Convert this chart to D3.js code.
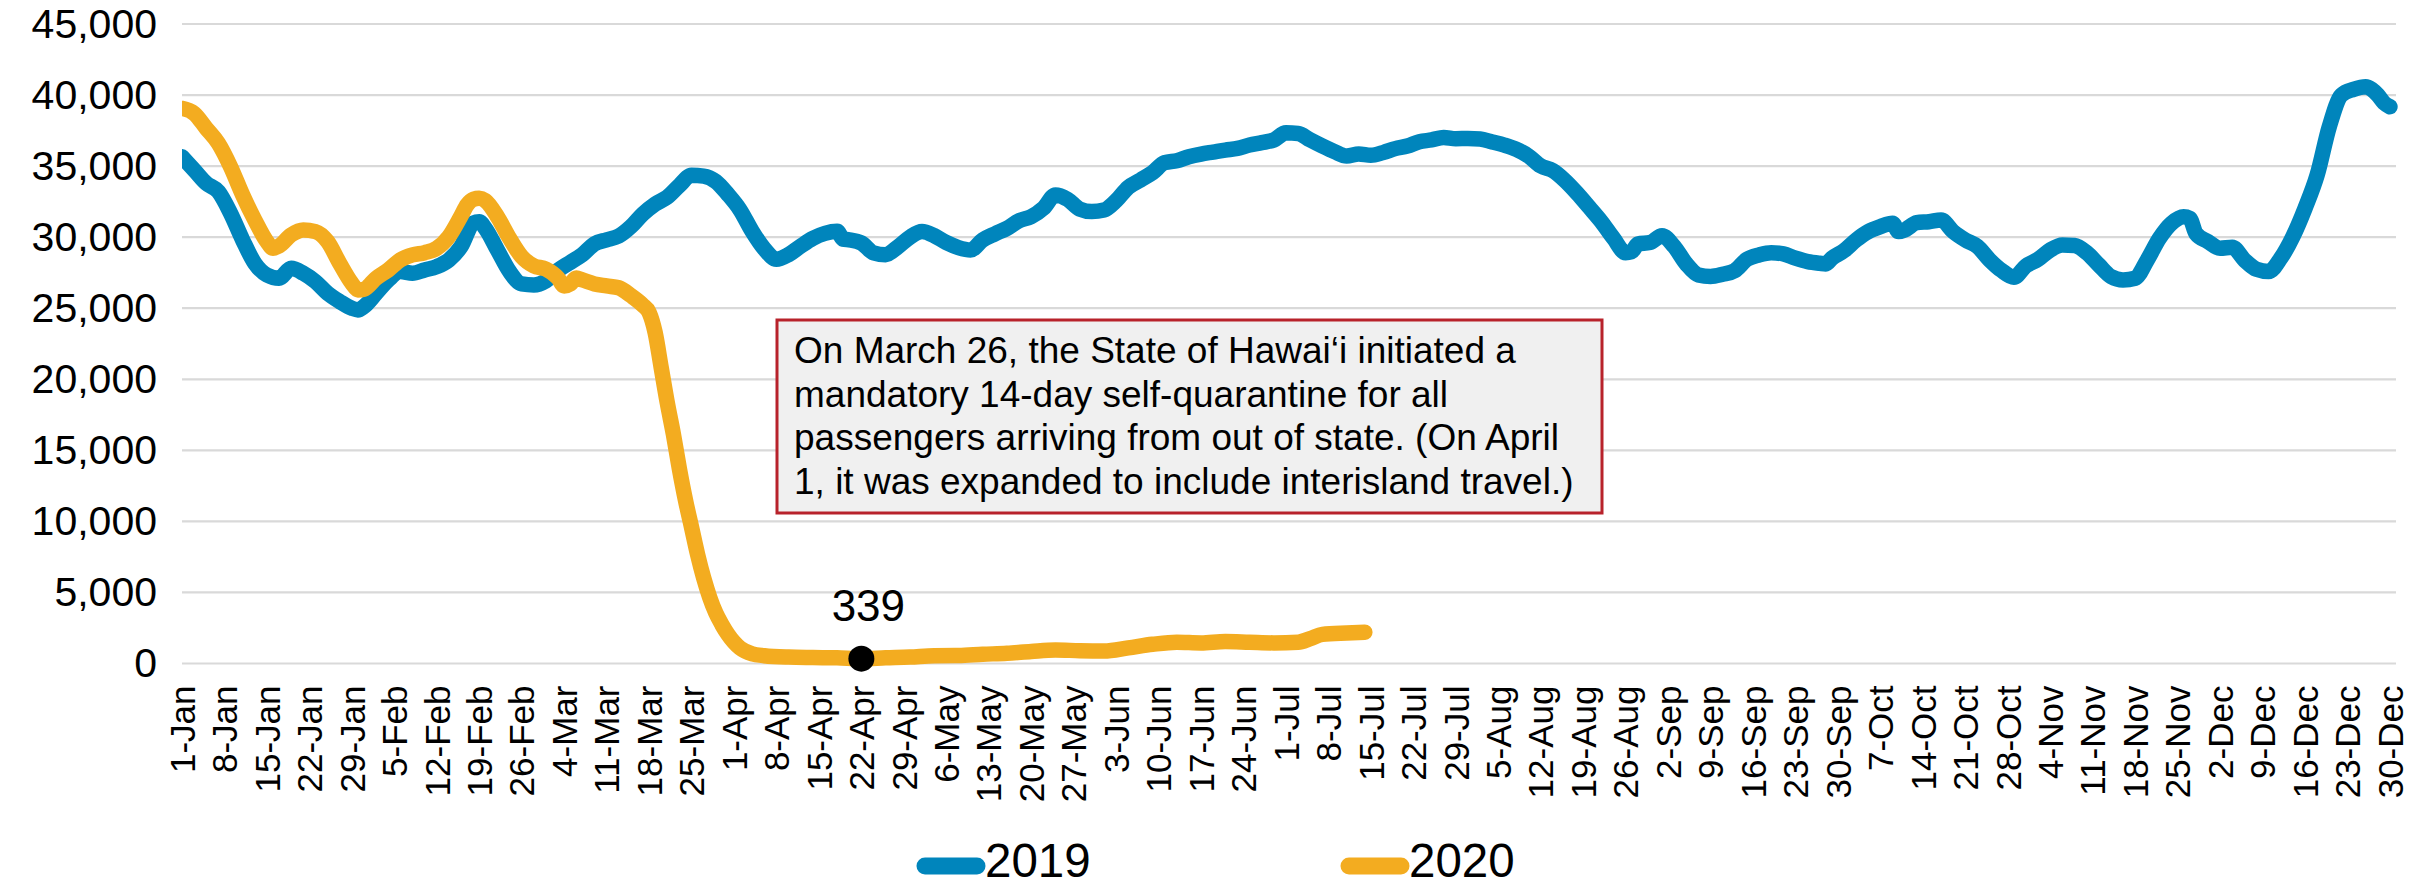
<!DOCTYPE html>
<html>
<head>
<meta charset="utf-8">
<script src="https://cdn.jsdelivr.net/npm/d3@7"></script>
<style>
  html, body { margin: 0; padding: 0; background: #ffffff; }
  svg { display: block; font-family: "Liberation Sans", Arial, Helvetica, sans-serif; }
</style>
</head>
<body>
<svg id="chart" width="2432" height="887"></svg>
<script>
// Daily visitor arrivals (7-day rolling), calendar axis 1-Jan .. 31-Dec
const categories = d3.timeDay.range(new Date(2020, 0, 1), new Date(2021, 0, 1))
  .map(d3.timeFormat("%-d-%b"));

const tickLabels = [
  "1-Jan","8-Jan","15-Jan","22-Jan","29-Jan","5-Feb","12-Feb","19-Feb","26-Feb",
  "4-Mar","11-Mar","18-Mar","25-Mar","1-Apr","8-Apr","15-Apr","22-Apr","29-Apr",
  "6-May","13-May","20-May","27-May","3-Jun","10-Jun","17-Jun","24-Jun",
  "1-Jul","8-Jul","15-Jul","22-Jul","29-Jul","5-Aug","12-Aug","19-Aug","26-Aug",
  "2-Sep","9-Sep","16-Sep","23-Sep","30-Sep","7-Oct","14-Oct","21-Oct","28-Oct",
  "4-Nov","11-Nov","18-Nov","25-Nov","2-Dec","9-Dec","16-Dec","23-Dec","30-Dec"
];

const yTicks = [0, 5000, 10000, 15000, 20000, 25000, 30000, 35000, 40000, 45000];

// 2019 series: day index (0 = 1-Jan) and value
const day2019 = [
  0,2,4,6,8,10,12,14,16,18,20,22,24,26,28,29,30,32,34,36,38,40,42,44,46,48,49,50,52,54,56,58,
  60,62,64,66,68,70,72,74,76,78,80,82,84,86,88,90,92,94,96,98,100,102,104,106,108,109,110,112,114,116,118,
  120,122,124,126,128,130,132,134,136,138,140,142,144,146,148,150,152,154,156,158,160,162,164,166,168,170,
  172,174,176,178,180,182,184,186,188,190,192,194,196,198,200,202,204,206,208,210,212,214,216,218,220,
  222,224,226,228,230,232,234,236,238,239,240,242,244,246,248,250,252,254,256,258,260,262,264,266,268,
  270,271,272,274,276,278,280,282,283,284,286,288,290,292,294,296,298,300,302,304,306,308,310,312,314,
  316,318,320,322,324,326,328,330,331,332,334,336,338,340,342,344,346,348,350,352,354,356,358,360,361,
  362,363,364
];
const values2019 = [
  35660,34730,33790,33200,31680,29800,28160,27340,27110,27810,27460,26870,26050,25470,25000,24880,25120,26050,
  26990,27580,27460,27690,27930,28400,29340,30980,31090,30620,29100,27580,26710,26640,
  26930,27670,28220,28770,29530,29810,30080,30740,31640,32330,32820,33640,34360,34300,33920,33010,31920,
  30410,29180,28440,28770,29370,29920,30270,30410,29860,29810,29590,28900,28770,29310,
  30000,30400,30110,29620,29270,29100,29800,30230,30620,31160,31440,32030,32970,32660,31980,31800,31910,
  32570,33510,34020,34540,35240,35380,35660,35850,35990,
  36130,36250,36480,36650,36840,37340,37300,36840,36410,36020,35710,35850,35760,35950,36230,36410,36720,
  36840,37020,36930,36950,36910,36700,36480,36180,
  35710,35010,34680,33980,33090,32100,31090,29920,28910,28980,29520,29620,30100,29340,28120,27340,27230,
  27390,27650,28440,28750,28910,28820,28520,28280,
  28160,28120,28520,29050,29800,30390,30740,30980,30390,30510,31020,31090,31210,30390,29800,29340,28400,
  27650,27180,27980,28440,29100,29450,29410,28910,
  28050,27230,26990,27110,28400,29920,30980,31440,31330,30270,29690,29220,29290,28400,27740,27580,28520,
  30040,32030,34370,37770,40000,40400,40590,40400,
  40000,39460,39180
];

// 2020 series: day index (0 = 1-Jan) and value
const day2020 = [
  0,2,4,6,8,10,12,14,15,16,18,20,22,24,26,28,29,30,32,34,36,38,40,42,44,46,47,48,49,50,52,54,56,58,
  60,62,63,64,65,66,68,70,72,74,76,77,78,79,80,81,82,83,84,85,86,87,88,89,90,91,92,94,96,100,104,108,
  112,116,120,124,128,132,136,140,144,148,152,156,160,164,168,172,176,180,184,186,188,192,195
];
const values2020 = [
  39060,38710,37660,36600,34960,32970,31210,29690,29220,29380,30160,30510,30390,29690,28160,26760,26290,
  26340,27110,27690,28400,28750,28910,29220,30040,31490,32270,32660,32730,32570,31440,29920,28630,27980,
  27750,27120,26570,26710,27120,26990,26710,26570,26440,25890,25200,24710,23290,20820,18350,16160,13700,
  11500,9590,7670,6020,4650,3560,2740,2050,1500,1090,680,550,450,420,400,
  339,400,450,550,560,650,720,850,950,900,880,1100,1350,1500,1450,1550,1500,1450,1500,1750,2050,2150,2200
];

// labelled point on the 2020 line
const markerDay = "22-Apr";
const markerValue = 339;

const noteLines = [
  "On March 26, the State of Hawai\u2018i initiated a",
  "mandatory 14-day self-quarantine for all",
  "passengers arriving from out of state. (On April",
  "1, it was expanded to include interisland travel.)"
];

const seriesNames = ["2019", "2020"];
const colors = { "2019": "#0085BC", "2020": "#F3AC20" };

// ---- layout ----
const svg = d3.select("#chart");
const plot = { left: 182, right: 2396, top: 24, bottom: 663.5 };

const x = d3.scalePoint().domain(categories).range([plot.left, plot.right]);
const y = d3.scaleLinear().domain([0, 45000]).range([plot.bottom, plot.top]);

// gridlines
svg.append("g").selectAll("line").data(yTicks).join("line")
  .attr("x1", plot.left).attr("x2", plot.right)
  .attr("y1", d => y(d)).attr("y2", d => y(d))
  .attr("stroke", "#d9d9d9").attr("stroke-width", 2.2);

// y axis labels
const yAxis = d3.axisLeft(y).tickValues(yTicks).tickFormat(d3.format(",")).tickSize(0).tickPadding(0);
svg.append("g")
  .attr("transform", `translate(${plot.left - 25},0)`)
  .call(yAxis)
  .call(g => g.select(".domain").remove())
  .call(g => g.selectAll("text")
    .attr("font-family", "Liberation Sans, Arial, sans-serif")
    .attr("font-size", 41).attr("fill", "#000"));

// x axis labels (rotated)
const xAxis = d3.axisBottom(x).tickValues(tickLabels).tickSize(0).tickPadding(0);
svg.append("g")
  .attr("transform", `translate(0,${plot.bottom})`)
  .call(xAxis)
  .call(g => g.select(".domain").remove())
  .call(g => g.selectAll("text")
    .attr("font-family", "Liberation Sans, Arial, sans-serif")
    .attr("font-size", 35).attr("fill", "#000")
    .attr("text-anchor", "end")
    .attr("transform", "translate(0,22) rotate(-90)")
    .attr("x", 0).attr("y", 0).attr("dy", "0.35em"));

// clip to plot area
svg.append("clipPath").attr("id", "plotClip")
  .append("rect").attr("x", plot.left).attr("y", 0)
  .attr("width", plot.right - plot.left + 10).attr("height", plot.bottom + 20);

const line = d3.line().x(d => d[0]).y(d => d[1]).curve(d3.curveMonotoneX);

const series = [
  { name: "2019", pts: day2019.map((d, i) => [x(categories[d]), y(values2019[i])]) },
  { name: "2020", pts: day2020.map((d, i) => [x(categories[d]), y(values2020[i])]) }
];

svg.append("g").attr("clip-path", "url(#plotClip)")
  .selectAll("path").data(series).join("path")
  .attr("d", d => line(d.pts))
  .attr("fill", "none")
  .attr("stroke", d => colors[d.name])
  .attr("stroke-width", 15.5)
  .attr("stroke-linejoin", "round")
  .attr("stroke-linecap", "round");

// marker + value label
const mx = x(markerDay), my = y(markerValue);
svg.append("circle").attr("cx", mx).attr("cy", my).attr("r", 13).attr("fill", "#000");
svg.append("text").attr("x", mx + 7).attr("y", my - 38)
  .attr("text-anchor", "middle").attr("font-size", 44).attr("fill", "#000")
  .text(d3.format(",")(markerValue));

// annotation box
const note = svg.append("g");
note.append("rect").attr("x", 777).attr("y", 320).attr("width", 825).attr("height", 193)
  .attr("fill", "#f0f0f0").attr("stroke", "#b8222b").attr("stroke-width", 3);
note.selectAll("text").data(noteLines).join("text")
  .attr("x", 794).attr("y", (d, i) => 363 + i * 43.6)
  .attr("font-size", 37).attr("fill", "#000")
  .text(d => d);

// legend
const legend = svg.append("g");
const legendX = { "2019": 917, "2020": 1341 };
seriesNames.forEach(n => {
  const g = legend.append("g").attr("transform", `translate(${legendX[n]},866)`);
  g.append("line").attr("x1", 8).attr("x2", 60).attr("y1", 0).attr("y2", 0)
    .attr("stroke", colors[n]).attr("stroke-width", 17).attr("stroke-linecap", "round");
  g.append("text").attr("x", 68).attr("y", 11).attr("font-size", 47.5).attr("fill", "#000").text(n);
});
</script>
</body>
</html>
